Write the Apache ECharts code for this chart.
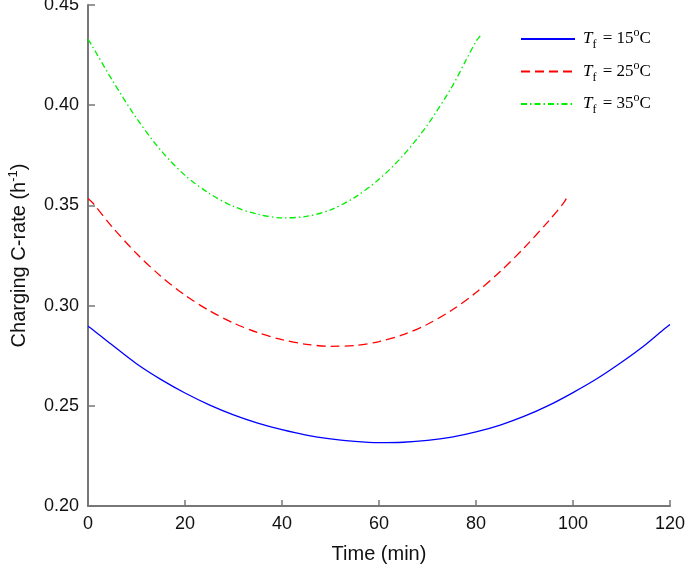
<!DOCTYPE html>
<html><head><meta charset="utf-8">
<script src="https://cdn.jsdelivr.net/npm/echarts@6/dist/echarts.min.js"></script>
<style>html,body{margin:0;padding:0;background:#fff}#c{width:685px;height:564px}</style>
</head><body><div id="c"></div>
<script>
const seriesNames = ['Tf15', 'Tf25', 'Tf35'];
const legendLabels = {Tf15: '15', Tf25: '25', Tf35: '35'};
const xTicks = [0, 20, 40, 60, 80, 100, 120];
const yTicks = [0.20, 0.25, 0.30, 0.35, 0.40, 0.45];

const t15 = [0, 1, 5, 10, 15, 20, 25, 30, 35, 40, 45, 50, 55, 60, 65, 70, 75, 80, 85, 90, 95, 100, 105, 110, 115, 119, 120];
const v15 = [0.2897, 0.2880, 0.2803, 0.2710, 0.2632, 0.2564, 0.2505, 0.2455, 0.2414, 0.2381, 0.2354, 0.2335, 0.2322, 0.2316, 0.2318, 0.2327, 0.2344, 0.2370, 0.2404, 0.2448, 0.2502, 0.2566, 0.2636, 0.2717, 0.2806, 0.2887, 0.2906];

const t25 = [0, 1, 5, 10, 15, 20, 25, 30, 35, 40, 45, 50, 55, 60, 65, 70, 75, 80, 85, 90, 95, 98, 99];
const v25 = [0.3535, 0.3512, 0.3392, 0.3260, 0.3147, 0.3052, 0.2975, 0.2913, 0.2865, 0.2830, 0.2807, 0.2797, 0.2801, 0.2820, 0.2855, 0.2907, 0.2977, 0.3065, 0.3170, 0.3290, 0.3423, 0.3510, 0.3550];

const t35 = [0, 1, 5, 10, 15, 20, 25, 30, 35, 40, 45, 50, 55, 60, 65, 70, 75, 78, 80, 81];
const v35 = [0.4330, 0.4290, 0.4125, 0.3935, 0.3775, 0.3650, 0.3560, 0.3495, 0.3456, 0.3438, 0.3445, 0.3478, 0.3540, 0.3630, 0.3750, 0.3902, 0.4090, 0.4228, 0.4318, 0.4350];

function pairs(t, v) { return t.map((x, i) => [x, v[i]]); }

const chart = echarts.init(document.getElementById('c'), null, {renderer: 'canvas'});
const serif = '"Liberation Serif", "Times New Roman", serif';
const sans = '"Liberation Sans", Arial, sans-serif';

chart.setOption({
  animation: false,
  backgroundColor: '#fff',
  grid: {left: 88, right: 15, top: 5, bottom: 58, containLabel: false, outerBoundsMode: 'none'},
  legend: {
    orient: 'vertical',
    left: 520, top: 27,
    padding: 0,
    itemWidth: 54, itemHeight: 14, itemGap: 8.5,
    itemStyle: {opacity: 0},
    data: seriesNames,
    formatter: function (name) {
      return '{i|T}{s|f}{n| = ' + legendLabels[name] + '}{sup|o}{n|C}';
    },
    textStyle: {
      padding: [0, 0, 0, 3],
      rich: {
        i: {fontFamily: serif, fontStyle: 'italic', fontSize: 17, color: '#000', lineHeight: 24, verticalAlign: 'middle'},
        s: {fontFamily: serif, fontSize: 12, color: '#000', lineHeight: 12, verticalAlign: 'bottom', padding: [0, 2, 0, 0]},
        n: {fontFamily: serif, fontSize: 17, color: '#000', lineHeight: 24, verticalAlign: 'middle'},
        sup: {fontFamily: serif, fontSize: 12, color: '#000', lineHeight: 12, verticalAlign: 'top'}
      }
    }
  },
  xAxis: {
    type: 'value', min: 0, max: 120, interval: 20,
    name: 'Time (min)', nameLocation: 'middle', nameGap: 38,
    nameTextStyle: {fontFamily: sans, fontSize: 20, color: '#111'},
    axisLine: {show: true, lineStyle: {color: '#777', width: 2}},
    axisTick: {show: true, inside: true, length: 6, lineStyle: {color: '#777', width: 1.5}},
    axisLabel: {fontFamily: sans, fontSize: 18, color: '#111', margin: 9,
      formatter: v => xTicks.includes(v) ? String(v) : ''},
    splitLine: {show: false}
  },
  yAxis: {
    type: 'value', min: 0.20, max: 0.45, interval: 0.05,
    name: '{a|Charging C-rate (h}{b|-1}{a|)}', nameLocation: 'middle', nameGap: 57, nameRotate: 90,
    nameTextStyle: {
      rich: {
        a: {fontFamily: sans, fontSize: 20, color: '#111', lineHeight: 24, verticalAlign: 'middle'},
        b: {fontFamily: sans, fontSize: 13, color: '#111', lineHeight: 13, verticalAlign: 'top'}
      }
    },
    axisLine: {show: true, lineStyle: {color: '#777', width: 2}},
    axisTick: {show: true, inside: true, length: 7, lineStyle: {color: '#777', width: 1.5}},
    axisLabel: {fontFamily: sans, fontSize: 18, color: '#111', margin: 9,
      formatter: v => yTicks.some(y => Math.abs(y - v) < 1e-9) ? v.toFixed(2) : ''},
    splitLine: {show: false}
  },
  series: [
    {name: 'Tf15', type: 'line', data: pairs(t15, v15), smooth: 0.3, symbol: 'none',
      lineStyle: {color: '#0000ff', width: 1.3, type: 'solid'}, itemStyle: {color: '#0000ff'}},
    {name: 'Tf25', type: 'line', data: pairs(t25, v25), smooth: 0.3, symbol: 'none',
      lineStyle: {color: '#ff0000', width: 1.3, type: [9, 5]}, itemStyle: {color: '#ff0000'}},
    {name: 'Tf35', type: 'line', data: pairs(t35, v35), smooth: 0.3, symbol: 'none',
      lineStyle: {color: '#00ee00', width: 1.3, type: [6, 3, 1.5, 3]}, itemStyle: {color: '#00ee00'}}
  ]
});
</script></body></html>
